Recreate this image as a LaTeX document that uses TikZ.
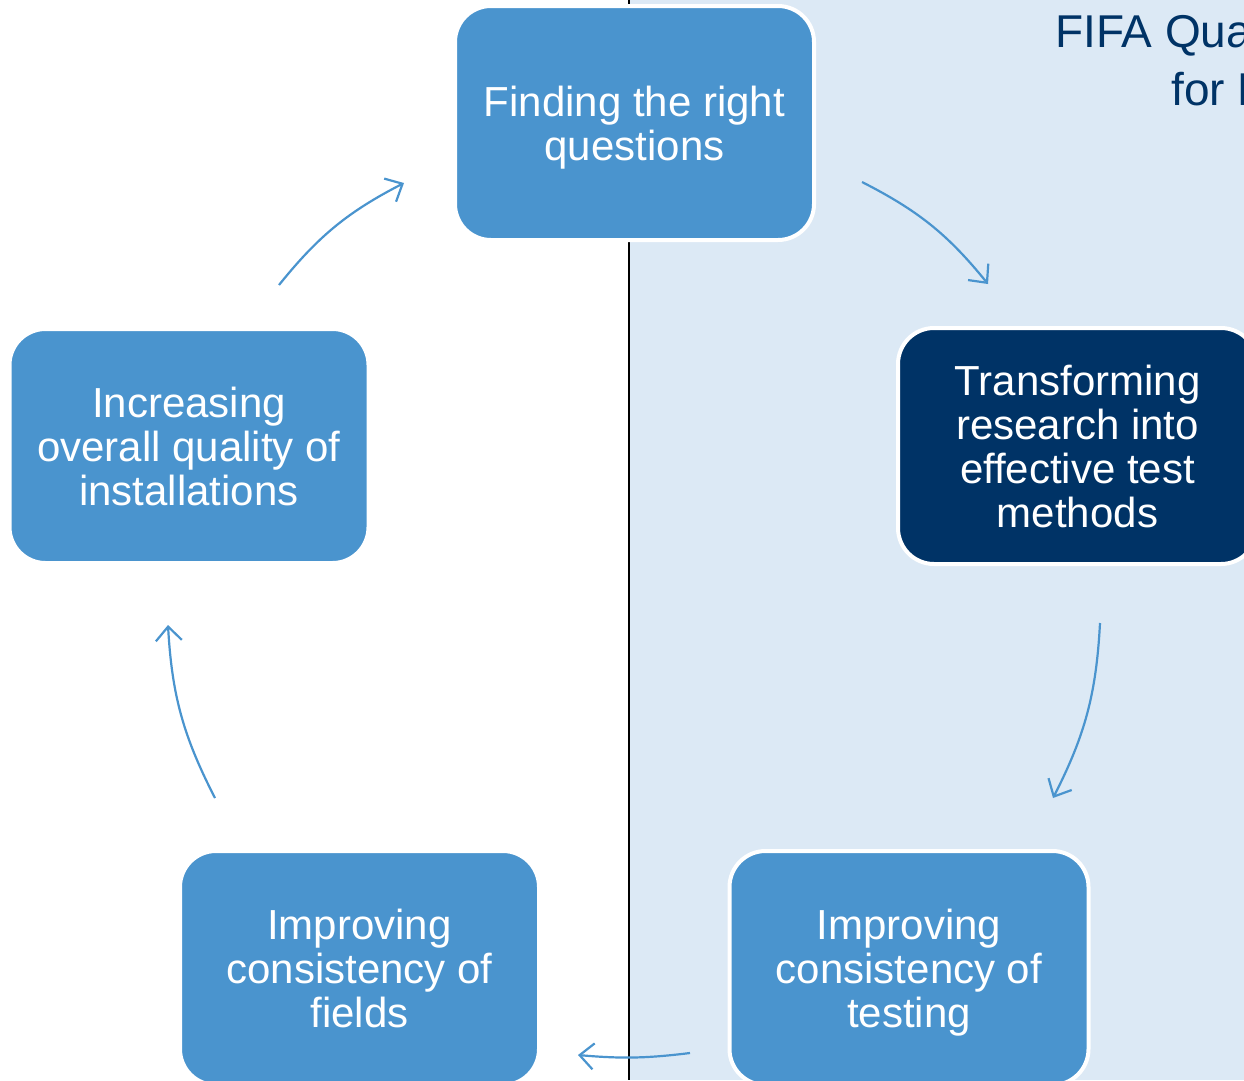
\documentclass[tikz,border=0pt]{standalone}
\usepackage{fontspec}
\setmainfont{Liberation Sans}
\usetikzlibrary{arrows.meta}
\definecolor{stepblue}{RGB}{74,148,206}
\definecolor{navy}{RGB}{0,51,102}
\definecolor{paleblue}{RGB}{220,233,245}

\begin{document}
\begin{tikzpicture}[x=1pt,y=1pt,
    phase/.style={draw=white, line width=4pt, fill=stepblue, rounded corners=36pt,
        minimum width=359pt, minimum height=234pt, inner sep=0pt,
        text=white, align=center, font=\fontsize{42}{44}\selectfont},
    turn/.style={->, draw=stepblue, line width=2.2pt, bend left=12},
    >={Straight Barb[length=14pt,width=26pt]}]
    \useasboundingbox (0,0) rectangle (1244,-1080);
    \clip (0,0) rectangle (1244,-1080);

    \fill[paleblue] (629,0) rectangle (1244,-1080);
    \draw[line width=2pt] (629,0) -- (629,-1080);

    \node[anchor=base west, inner sep=0pt, text=navy, font=\fontsize{46}{56}\selectfont] (title1) at (1055,-47) {FIFA Quality Programme};
    \node[anchor=base west, inner sep=0pt, text=navy, font=\fontsize{46}{56}\selectfont] (title2) at (1171,-105) {for Football Turf};

    \node[phase] (find) at (634.5,-123) {Finding the right\\\smash{questions}};
    \node[phase, fill=navy, minimum height=236pt] (transform) at (1077.5,-446) {Transforming\\research into\\effective test\\methods};
    \node[phase] (testing) at (909,-968) {Improving\\consistency of\\\smash{testing}};
    \node[phase] (fields) at (359.5,-968) {Improving\\consistency of\\fields};
    \node[phase] (quality) at (189,-446) {Increasing\\overall quality of\\installations};

    \coordinate (q-out) at (279,-285);
    \coordinate (f-in) at (404,-183);
    \coordinate (f-out) at (862,-182);
    \coordinate (t-in) at (988,-284);
    \coordinate (t-out) at (1100,-623);
    \coordinate (s-in) at (1053,-798);
    \coordinate (s-out) at (690,-1053);
    \coordinate (d-in) at (578,-1055);
    \coordinate (d-out) at (215,-798);
    \coordinate (q-in) at (168,-625);

    \draw[turn] (q-out) to (f-in);
    \draw[turn] (f-out) to (t-in);
    \draw[turn] (t-out) to (s-in);
    \draw[turn, bend left=6] (s-out) to (d-in);
    \draw[turn] (d-out) to (q-in);
\end{tikzpicture}
\end{document}
